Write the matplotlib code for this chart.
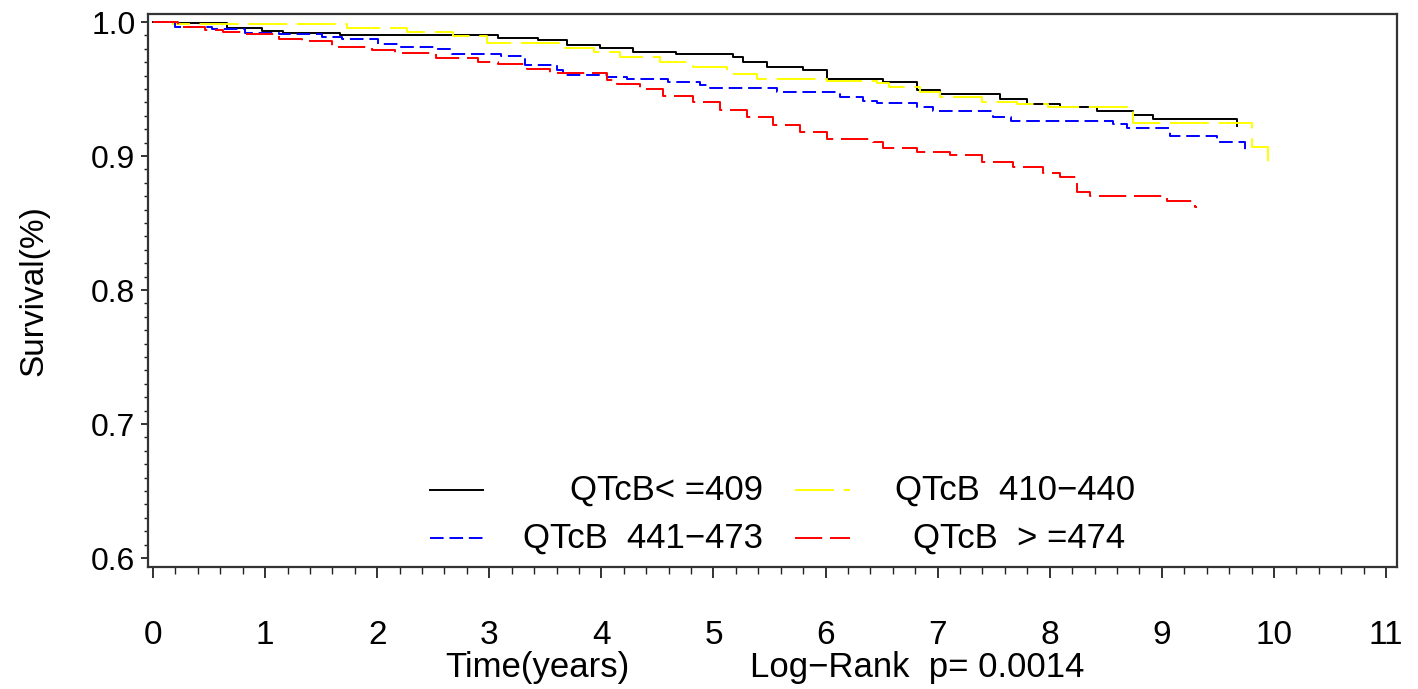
import matplotlib
matplotlib.use("Agg")
import matplotlib.pyplot as plt
from matplotlib.ticker import MultipleLocator
from matplotlib import font_manager

# ---------------- data ----------------
t_le409 = [0.0, 0.18, 0.66, 0.97, 1.16, 1.67, 3.08, 3.43, 3.69, 3.99, 4.28, 4.67, 5.17, 5.26,
           5.48, 5.80, 6.01, 6.51, 6.82, 7.02, 7.56, 7.80, 8.09, 8.42, 8.74, 8.92, 9.67]
s_le409 = [1.0, 0.999, 0.9955, 0.993, 0.992, 0.990, 0.988, 0.9866, 0.983, 0.9806, 0.9776, 0.976,
           0.974, 0.970, 0.9664, 0.964, 0.9575, 0.955, 0.949, 0.946, 0.9425, 0.939, 0.9366,
           0.9336, 0.9306, 0.9276, 0.9224]

t_410_440 = [0.0, 0.18, 1.73, 2.27, 2.68, 2.98, 3.66, 3.93, 4.17, 4.52, 4.82, 5.12, 5.39, 6.01,
             6.46, 6.57, 6.84, 7.02, 7.40, 7.71, 7.98, 8.74, 9.80, 9.95]
s_410_440 = [1.0, 0.9985, 0.9957, 0.9928, 0.9896, 0.9843, 0.9806, 0.9776, 0.974, 0.970, 0.9664,
             0.961, 0.9575, 0.956, 0.9545, 0.9515, 0.948, 0.944, 0.940, 0.939, 0.9366, 0.9246,
             0.9067, 0.8896]

t_441_473 = [0.0, 0.20, 0.53, 0.82, 1.12, 1.51, 1.69, 2.01, 2.19, 2.52, 2.67, 3.10, 3.32, 3.60,
             3.66, 4.05, 4.23, 4.59, 4.88, 4.97, 5.57, 6.13, 6.33, 6.46, 6.82, 6.96, 7.49, 7.65,
             8.56, 8.69, 9.07, 9.49, 9.74, 9.76]
s_441_473 = [1.0, 0.9965, 0.9948, 0.9916, 0.9908, 0.989, 0.9873, 0.9834, 0.9813, 0.9799, 0.9759,
             0.9746, 0.968, 0.964, 0.9604, 0.959, 0.9575, 0.9552, 0.953, 0.9507, 0.9478, 0.944,
             0.941, 0.9396, 0.9366, 0.9336, 0.929, 0.926, 0.9239, 0.921, 0.915, 0.9104, 0.9037,
             0.9037]

t_ge474 = [0.0, 0.22, 0.46, 0.62, 0.82, 1.12, 1.33, 1.60, 1.95, 2.16, 2.52, 2.90, 3.08, 3.34,
           3.54, 4.05, 4.14, 4.34, 4.55, 4.82, 5.06, 5.30, 5.53, 5.77, 6.01, 6.42, 6.51, 6.82,
           7.11, 7.40, 7.67, 7.94, 8.09, 8.24, 8.36, 9.05, 9.30, 9.31]
s_ge474 = [1.0, 0.9963, 0.994, 0.9925, 0.991, 0.9873, 0.9858, 0.9816, 0.979, 0.9766, 0.973,
           0.970, 0.9687, 0.965, 0.962, 0.9567, 0.9537, 0.950, 0.9448, 0.940, 0.9343, 0.929,
           0.9231, 0.918, 0.9127, 0.9104, 0.906, 0.903, 0.9007, 0.8955, 0.8918, 0.8873, 0.8843,
           0.8731, 0.870, 0.8664, 0.862, 0.862]

group_labels = ["QTcB< =409", "QTcB  410\u2212440", "QTcB  441\u2212473", "QTcB  > =474"]
x_ticks = list(range(0, 12))
y_ticks = [0.6, 0.7, 0.8, 0.9, 1.0]
x_label = "Time(years)"
y_label = "Survival(%)"
pvalue_text = "Log\u2212Rank  p= 0.0014"

# ---------------- styling ----------------
avail = {f.name for f in font_manager.fontManager.ttflist}
fam = [f for f in ["Liberation Sans Narrow", "Liberation Sans", "DejaVu Sans"] if f in avail]
plt.rcParams["font.family"] = fam

fig = plt.figure(figsize=(14.18, 6.89), dpi=100)
ax = fig.add_axes([148 / 1418, 1 - 567 / 689, (1397 - 148) / 1418, (567 - 14) / 689])

styles = [
    dict(color="black", linestyle="-", lw=1.4),
    dict(color="#FFFF00", linestyle=(0, (20, 5)), lw=1.4),
    dict(color="#0000FF", linestyle=(0, (7, 3)), lw=1.4),
    dict(color="#FF0000", linestyle=(0, (14, 4)), lw=1.4),
]
series = [(t_le409, s_le409), (t_410_440, s_410_440), (t_441_473, s_441_473), (t_ge474, s_ge474)]
for (t, s), st in zip(series, styles):
    ax.step(t, s, where="post", **st)

ax.set_xlim(-0.045, 11.098)
ax.set_ylim(0.5933, 1.006)
ax.set_xticks(x_ticks)
ax.set_yticks(y_ticks)
ax.set_yticklabels([f"{v:.1f}" for v in y_ticks])
ax.xaxis.set_minor_locator(MultipleLocator(0.2))
ax.yaxis.set_minor_locator(MultipleLocator(0.01))

ax.tick_params(axis="x", which="major", direction="out", length=8, width=1.3, pad=30,
               labelsize=24, colors="#222222")
ax.tick_params(axis="x", which="minor", direction="out", length=5, width=1.0, colors="#222222")
ax.tick_params(axis="y", which="major", direction="out", length=5, width=1.3, pad=4,
               labelsize=23, colors="#222222")
ax.tick_params(axis="y", which="minor", direction="out", length=3, width=1.0, colors="#222222")
for lab in ax.get_xticklabels() + ax.get_yticklabels():
    lab.set_color("black")
for sp in ax.spines.values():
    sp.set_color("#333333")
    sp.set_linewidth(1.6)

ax.set_ylabel(y_label, fontsize=24, labelpad=30)

# legend (manual, right-aligned text as in the original)
W, H = 1249.0, 553.0
def fx(px):
    return (px - 148) / W
def fy(py):
    return (567 - py) / H

leg_pos = [  # (line x0, line x1, text right px, row y px)
    (430, 483, 763, 490),
    (795, 850, 1135, 490),
    (430, 483, 763, 538),
    (795, 850, 1125, 538),
]
for (x0, x1, xr, yy), st, lab in zip(leg_pos, styles, group_labels):
    ax.plot([fx(x0), fx(x1)], [fy(yy), fy(yy)], transform=ax.transAxes, **st)
    ax.text(fx(xr), fy(yy), lab, transform=ax.transAxes, ha="right", va="center",
            fontsize=25)

fig.text(537 / 1418, 1 - 668 / 689, x_label, ha="center", va="center", fontsize=25)
fig.text(750 / 1418, 1 - 668 / 689, pvalue_text, ha="left", va="center", fontsize=25)

fig.savefig("out.png", dpi=100)
